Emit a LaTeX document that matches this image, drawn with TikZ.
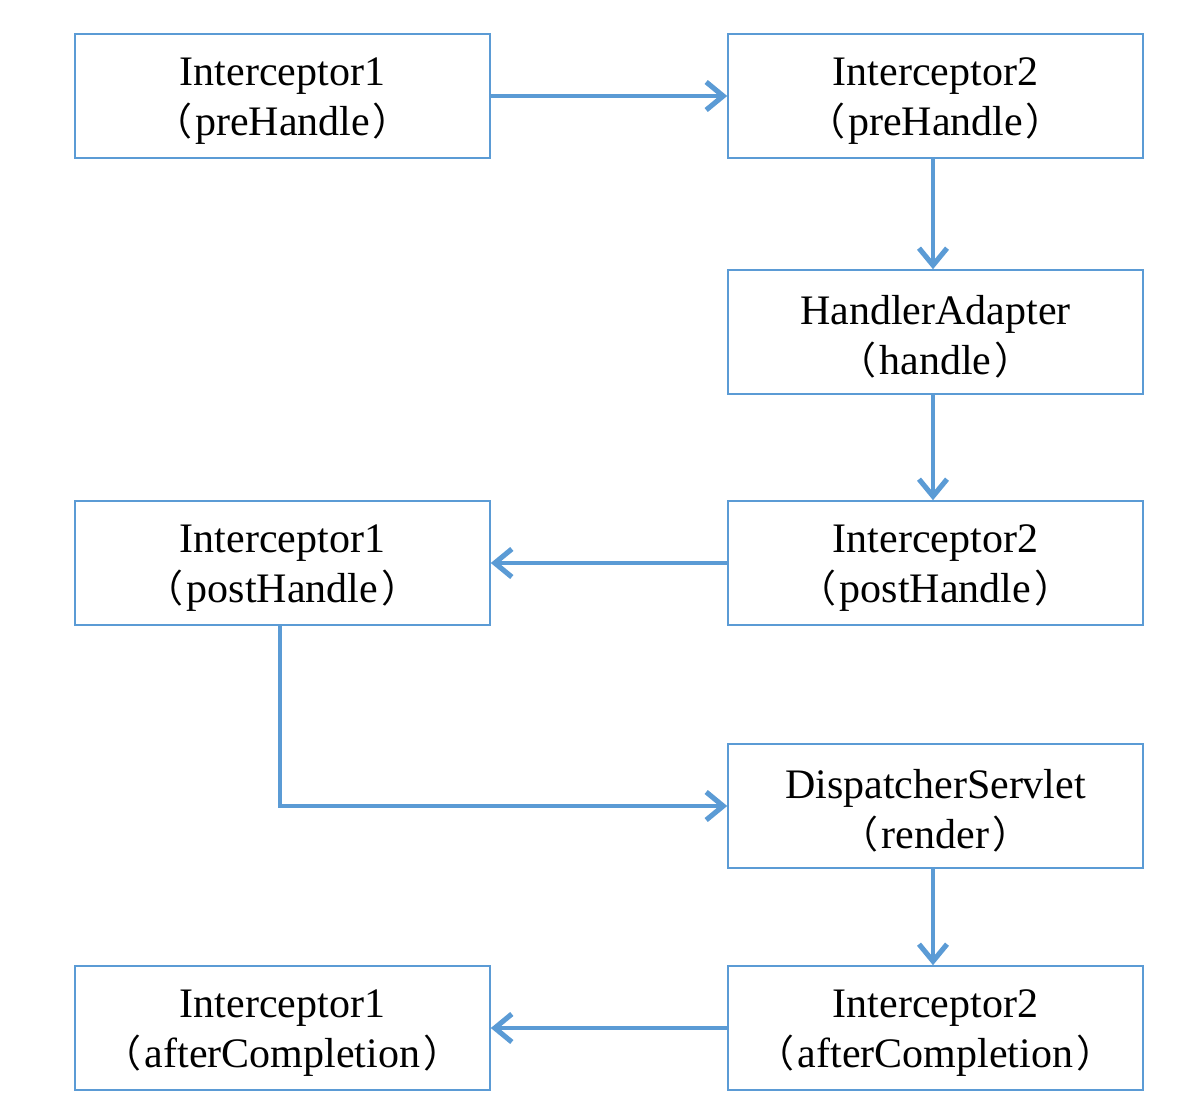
\documentclass[tikz,border=0pt]{standalone}
\usepackage{fontspec}
\setmainfont{Liberation Serif}
\newfontfamily\cjk{Noto Sans CJK SC}
\usetikzlibrary{arrows.meta}
\definecolor{flowblue}{HTML}{5B9BD5}
\newcommand{\lp}{{\cjk\fontsize{38}{50}\selectfont （}\hspace{3pt}}
\newcommand{\rp}{\hspace{3pt}{\cjk\fontsize{38}{50}\selectfont ）}}
\newcommand{\topline}{\rule{0pt}{38pt}}
\begin{document}
\begin{tikzpicture}[x=1pt,y=-1pt,
  stagebox/.style={draw=flowblue,line width=1.6pt,minimum width=415pt,minimum height=124pt,
    inner sep=0pt,align=center,font=\fontsize{42}{50}\selectfont},
  flow/.style={draw=flowblue,line width=3.4pt,-{Straight Barb[length=17pt,width=28pt,line width=0pt 1.5]}}]
\useasboundingbox (0,0) rectangle (1182,1118);
\node[stagebox] (pre1) at (282.5,96) {\topline Interceptor1\\\lp preHandle\rp};
\node[stagebox] (pre2) at (935.5,96) {\topline Interceptor2\\\lp preHandle\rp};
\node[stagebox] (ha) at (935.5,332) {\topline HandlerAdapter\\\lp handle\rp};
\node[stagebox] (post2) at (935.5,563) {\topline Interceptor2\\\lp postHandle\rp};
\node[stagebox] (post1) at (282.5,563) {\topline Interceptor1\\\lp postHandle\rp};
\node[stagebox] (ds) at (935.5,806) {\topline DispatcherServlet\\\lp render\rp};
\node[stagebox] (after2) at (935.5,1028) {\topline Interceptor2\\\lp afterCompletion\rp};
\node[stagebox] (after1) at (282.5,1028) {\topline Interceptor1\\\lp afterCompletion\rp};
\draw[flow] (pre1.east) -- (pre2.west);
\draw[flow] (pre2.south -| 933,0) -- (ha.north -| 933,0);
\draw[flow] (ha.south -| 933,0) -- (post2.north -| 933,0);
\draw[flow] (post2.west) -- (post1.east);
\draw[flow] (post1.south -| 280,0) |- (ds.west);
\draw[flow] (ds.south -| 933,0) -- (after2.north -| 933,0);
\draw[flow] (after2.west) -- (after1.east);
\end{tikzpicture}
\end{document}
